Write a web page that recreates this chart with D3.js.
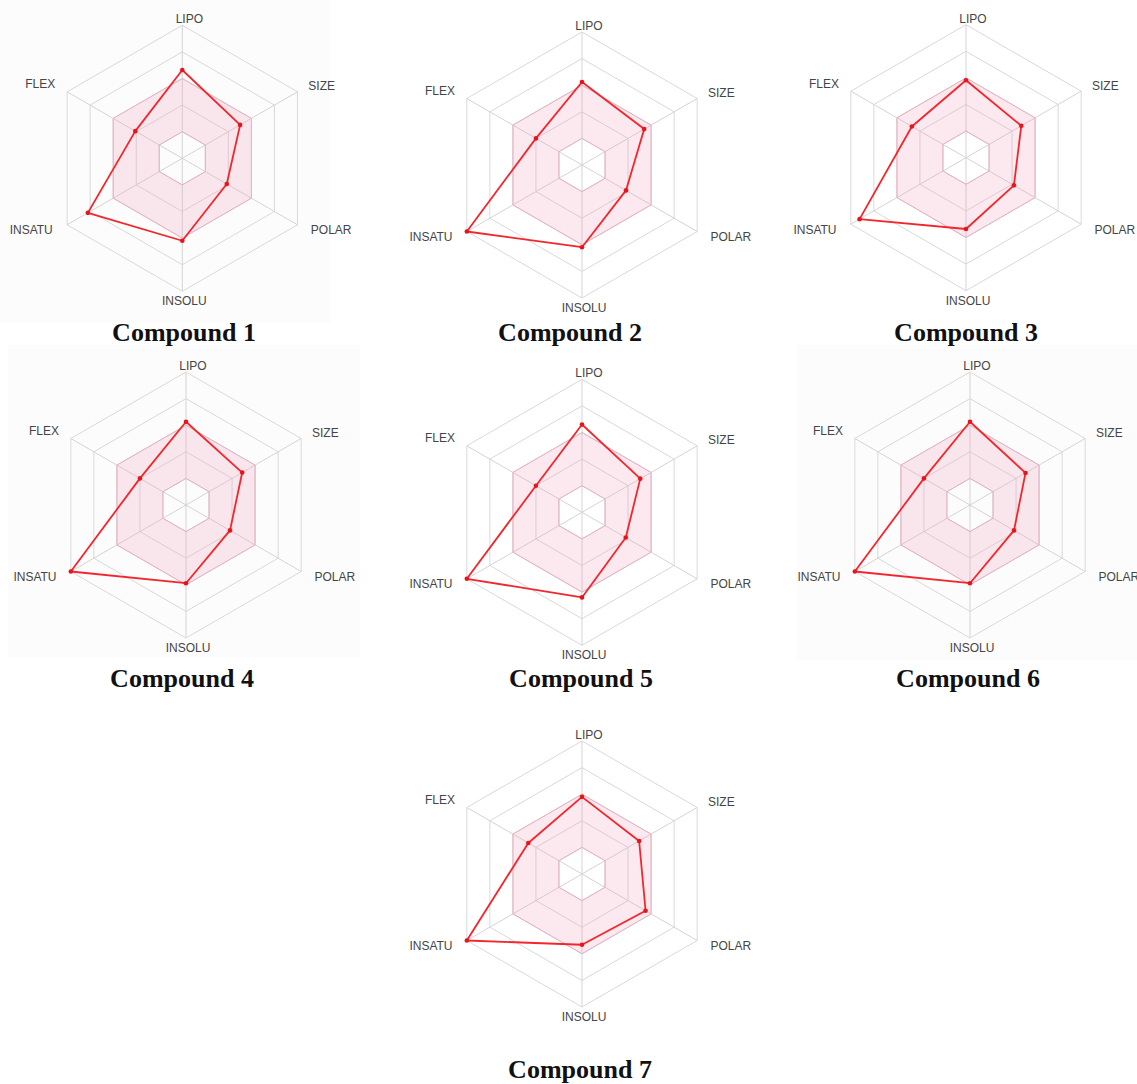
<!DOCTYPE html>
<html>
<head>
<meta charset="utf-8">
<script src="https://cdn.jsdelivr.net/npm/d3@7"></script>
<style>
  body { margin: 0; background: #fff; }
</style>
</head>
<body>
<svg id="radars"></svg>
<script>
// axes of the bioavailability radar, clockwise from top
var axes = ["LIPO", "SIZE", "POLAR", "INSOLU", "INSATU", "FLEX"];
var compounds = ["Compound 1", "Compound 2", "Compound 3", "Compound 4", "Compound 5", "Compound 6", "Compound 7"];

// values in ring units (0 = centre, 5 = outer ring)
var c1 = [3.32, 2.51, 1.93, 3.10, 4.10, 2.04];
var c2 = [3.12, 2.70, 1.91, 3.09, 5.00, 2.00];
var c3 = [2.91, 2.40, 2.08, 2.68, 4.62, 2.35];
var c4 = [3.13, 2.44, 1.91, 2.94, 5.00, 2.00];
var c5 = [3.30, 2.53, 1.90, 3.20, 5.00, 2.00];
var c6 = [3.13, 2.41, 1.91, 2.94, 5.00, 2.00];
var c7 = [2.90, 2.48, 2.76, 2.66, 5.00, 2.33];
var seriesValues = [c1, c2, c3, c4, c5, c6, c7];

var rings = [1, 2, 3, 4, 5];
var optimalRange = [1, 3];   // pink zone, in ring units

var width = 1137, height = 1084;
var svg = d3.select("#radars").attr("width", width).attr("height", height);

// faint screenshot panels behind some of the charts
var panels = [
  {x: 0, y: 0, w: 330, h: 322},
  {x: 8, y: 345, w: 352, h: 312},
  {x: 797, y: 345, w: 340, h: 315}
];
svg.selectAll("rect.panel").data(panels).enter().append("rect")
  .attr("x", function (d) { return d.x; })
  .attr("y", function (d) { return d.y; })
  .attr("width", function (d) { return d.w; })
  .attr("height", function (d) { return d.h; })
  .attr("fill", "#fcfcfc");

// where each radar sits and where its title goes
var layout = [
  {cx: 182.3, cy: 158.3, tx: 184, ty: 341},
  {cx: 582, cy: 165, tx: 570, ty: 341},
  {cx: 966, cy: 157.7, tx: 966, ty: 341},
  {cx: 186, cy: 505, tx: 182, ty: 687},
  {cx: 582, cy: 512.3, tx: 581, ty: 687},
  {cx: 970, cy: 505, tx: 968, ty: 687},
  {cx: 582, cy: 874, tx: 580, ty: 1078}
];

var rscale = d3.scaleLinear().domain([0, 5]).range([0, 133]);
var angle = d3.scalePoint().domain(axes).range([0, 2 * Math.PI * 5 / 6]);

function pt(axis, v) {
  var a = angle(axis);
  return [Math.sin(a) * rscale(v), -Math.cos(a) * rscale(v)];
}

var ringLine = d3.line().curve(d3.curveLinearClosed);

// label offsets relative to the radar centre
var labelPos = {
  LIPO:   {dx: 7,    dy: 4 - 139, anchor: "middle"},
  SIZE:   {dx: 126,  dy: 4 - 72,  anchor: "start"},
  POLAR:  {dx: 128.5, dy: 4 + 72, anchor: "start"},
  INSOLU: {dx: 2,    dy: 4 + 143, anchor: "middle"},
  INSATU: {dx: -129.5, dy: 4 + 72, anchor: "end"},
  FLEX:   {dx: -127, dy: 4 - 74,  anchor: "end"}
};

seriesValues.forEach(function (vals, i) {
  var L = layout[i];
  var g = svg.append("g").attr("transform", "translate(" + L.cx + "," + L.cy + ")");

  // grid rings
  g.selectAll("path.ring").data(rings).enter().append("path")
    .attr("d", function (r) { return ringLine(axes.map(function (a) { return pt(a, r); })); })
    .attr("fill", "none")
    .attr("stroke", "#d9d9d9")
    .attr("stroke-width", 1);

  // spokes
  g.selectAll("line.spoke").data(axes).enter().append("line")
    .attr("x1", 0).attr("y1", 0)
    .attr("x2", function (a) { return pt(a, 5)[0]; })
    .attr("y2", function (a) { return pt(a, 5)[1]; })
    .attr("stroke", "#d4d4d4")
    .attr("stroke-width", 1);

  // pink optimal zone (between ring 1 and ring 3)
  var outer = axes.map(function (a) { return pt(a, optimalRange[1]); });
  var inner = axes.map(function (a) { return pt(a, optimalRange[0]); }).reverse();
  g.append("path")
    .attr("d", ringLine(outer) + ringLine(inner))
    .attr("fill", "#ec9db8")
    .attr("fill-opacity", 0.22)
    .attr("fill-rule", "evenodd")
    .attr("stroke", "#e6b3c3")
    .attr("stroke-width", 1);

  // compound polygon
  var pts = axes.map(function (a, k) { return pt(a, vals[k]); });
  g.append("path")
    .attr("d", ringLine(pts))
    .attr("fill", "none")
    .attr("stroke", "#f2262c")
    .attr("stroke-width", 1.8)
    .attr("stroke-linejoin", "round");

  g.selectAll("circle.pt").data(pts).enter().append("circle")
    .attr("cx", function (d) { return d[0]; })
    .attr("cy", function (d) { return d[1]; })
    .attr("r", 2.3)
    .attr("fill", "#e8141c");

  // axis labels
  g.selectAll("text.lab").data(axes).enter().append("text")
    .text(function (a) { return a; })
    .attr("x", function (a) { return labelPos[a].dx; })
    .attr("y", function (a) { return labelPos[a].dy; })
    .attr("text-anchor", function (a) { return labelPos[a].anchor; })
    .style("font-family", "'Liberation Sans', Arial, sans-serif")
    .style("font-size", "12px")
    .style("fill", "#454545");

  // title
  svg.append("text")
    .text(compounds[i])
    .attr("x", L.tx)
    .attr("y", L.ty)
    .attr("text-anchor", "middle")
    .style("font-family", "'Liberation Serif', 'Times New Roman', serif")
    .style("font-weight", "bold")
    .style("font-size", "26px")
    .style("fill", "#111");
});
</script>
</body>
</html>
